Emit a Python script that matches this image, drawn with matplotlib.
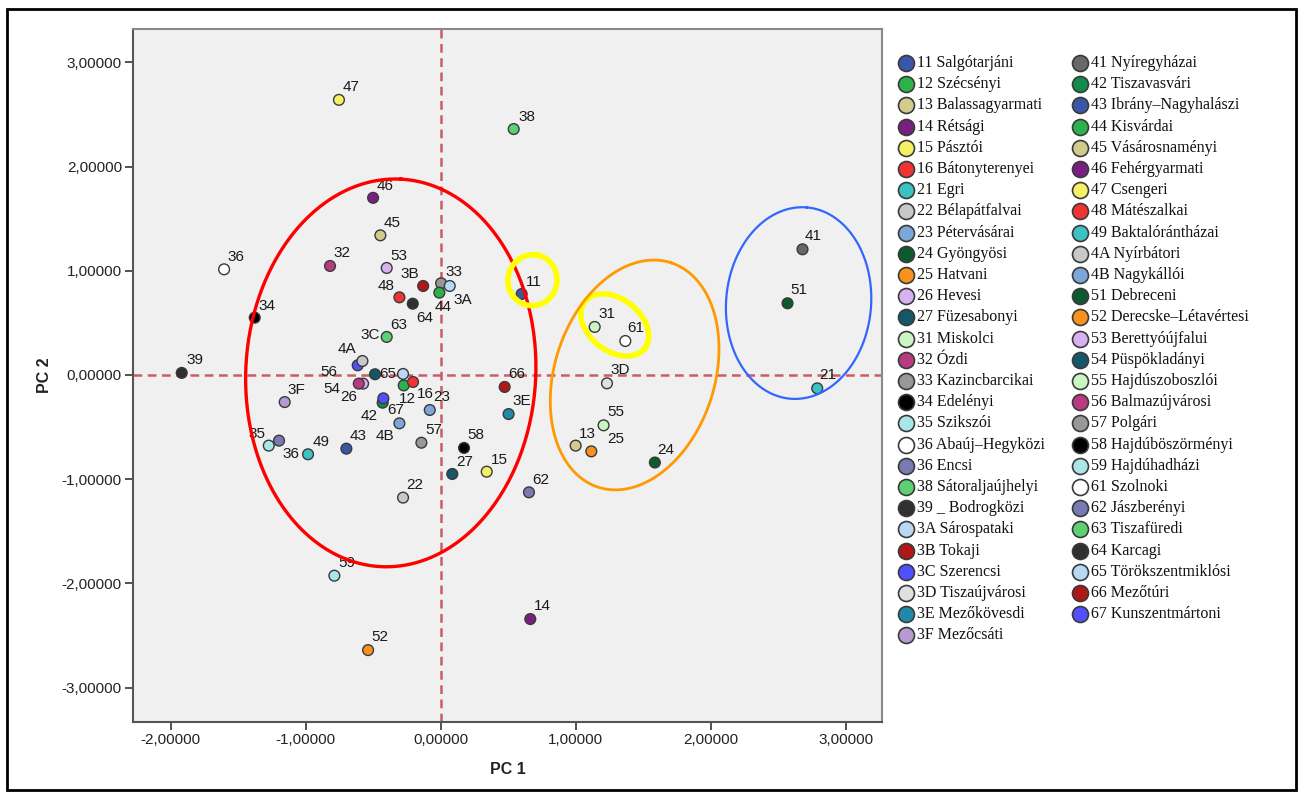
import matplotlib
matplotlib.use("Agg")
import matplotlib.pyplot as plt
import numpy as np
from matplotlib.patches import Rectangle

# ---------------- data ----------------
codes = ["11", "12", "13", "14", "15", "16", "21", "22", "23", "24", "25", "26", "27",
         "31", "32", "33", "34", "35", "36", "36", "38", "39", "3A", "3B", "3C", "3D", "3E", "3F",
         "41", "42", "43", "44", "45", "46", "47", "48", "49", "4A", "4B",
         "51", "52", "53", "54", "55", "56", "57", "58", "59",
         "61", "62", "63", "64", "65", "66", "67"]
names = ["Salgótarjáni", "Szécsényi", "Balassagyarmati", "Rétsági", "Pásztói", "Bátonyterenyei",
         "Egri", "Bélapátfalvai", "Pétervásárai", "Gyöngyösi", "Hatvani", "Hevesi", "Füzesabonyi",
         "Miskolci", "Ózdi", "Kazincbarcikai", "Edelényi", "Szikszói", "Abaúj–Hegyközi", "Encsi",
         "Sátoraljaújhelyi", "_ Bodrogközi", "Sárospataki", "Tokaji", "Szerencsi", "Tiszaújvárosi",
         "Mezőkövesdi", "Mezőcsáti",
         "Nyíregyházai", "Tiszavasvári", "Ibrány–Nagyhalászi", "Kisvárdai", "Vásárosnaményi",
         "Fehérgyarmati", "Csengeri", "Mátészalkai", "Baktalórántházai", "Nyírbátori", "Nagykállói",
         "Debreceni", "Derecske–Létavértesi", "Berettyóújfalui", "Püspökladányi", "Hajdúszoboszlói",
         "Balmazújvárosi", "Polgári", "Hajdúböszörményi", "Hajdúhadházi",
         "Szolnoki", "Jászberényi", "Tiszafüredi", "Karcagi", "Törökszentmiklósi", "Mezőtúri",
         "Kunszentmártoni"]
pc1 = [0.60, -0.274, 1.00, 0.664, 0.341, -0.205, 2.79, -0.279, -0.081, 1.587, 1.116, -0.575, 0.086,
       1.141, -0.82, 0.003, -1.378, -1.274, -1.605, -1.198, 0.541, -1.919, 0.067, -0.13, -0.615, 1.232,
       0.503, -1.156,
       2.681, -0.43, -0.699, -0.01, -0.447, -0.501, -0.754, -0.306, -0.983, -0.58, -0.306,
       2.570, -0.538, -0.40, -0.487, 1.207, -0.607, -0.143, 0.173, -0.788,
       1.368, 0.654, -0.40, -0.207, -0.279, 0.474, -0.425]
pc2 = [0.777, -0.10, -0.678, -2.342, -0.928, -0.067, -0.128, -1.177, -0.336, -0.84, -0.733, -0.083, -0.95,
       0.461, 1.046, 0.88, 0.55, -0.678, 1.014, -0.63, 2.36, 0.02, 0.854, 0.854, 0.093, -0.08,
       -0.375, -0.26,
       1.206, -0.266, -0.707, 0.79, 1.34, 1.70, 2.64, 0.745, -0.761, 0.134, -0.464,
       0.688, -2.64, 1.027, 0.007, -0.483, -0.083, -0.65, -0.70, -1.926,
       0.326, -1.126, 0.365, 0.684, 0.01, -0.115, -0.224]
colors = ["#3a56a8", "#2bb24c", "#d2cb8e", "#7a1f82", "#f6f066", "#f03434", "#3cc2c2", "#c8c8c8",
          "#7ba8d8", "#0c5a2e", "#f7921e", "#d8b2f0", "#15566a",
          "#caf6c2", "#b83a80", "#989898", "#000000", "#aae6e6", "#ffffff", "#7a7ab2", "#5cd072",
          "#303030", "#b8d8f4", "#b01818", "#5050ff", "#e0e0e0", "#1f8aa8", "#b89ad2",
          "#686868", "#128c4c", "#3a56a8", "#2bb24c", "#d2cb8e", "#7a1f82", "#f6f066", "#f03434",
          "#3cc2c2", "#c8c8c8", "#7ba8d8",
          "#0c5a2e", "#f7921e", "#d8b2f0", "#15566a", "#caf6c2", "#b83a80", "#989898", "#000000",
          "#aae6e6",
          "#ffffff", "#7a7ab2", "#5cd072", "#303030", "#b8d8f4", "#b01818", "#5050ff"]

# label offsets (pixels, dx right, dy up) for the point labels
label_off = {0: (12, 12), 1: (4, -14), 2: (12, 12), 3: (12, 13), 4: (13, 12), 5: (12, -12),
             6: (11, 13), 7: (12, 13), 8: (12, 13), 9: (11, 13), 10: (24, 12), 11: (-14, -13),
             12: (12, 12), 13: (12, 13), 14: (12, 13), 15: (13, 11), 16: (12, 12), 17: (-12, 12),
             18: (12, 12), 19: (12, -13), 20: (13, 12), 21: (13, 13), 22: (13, -14), 23: (-13, 12),
             24: (13, 30), 25: (13, 13), 26: (13, 13), 27: (12, 12),
             28: (11, 13), 29: (-14, -13), 30: (12, 13), 31: (4, -14), 32: (12, 12), 33: (12, 12),
             34: (12, 13), 35: (-13, 11), 36: (13, 12), 37: (-15, 12), 38: (-14, -13),
             39: (11, 13), 40: (12, 13), 41: (12, 12), 42: (-43, -15), 43: (12, 13), 44: (-30, 12),
             45: (12, 13), 46: (12, 13), 47: (12, 13),
             48: (10, 13), 49: (12, 12), 50: (12, 12), 51: (12, -14), 52: (-15, 0), 53: (12, 13),
             54: (12, -12)}

# ---------------- figure ----------------
W, H = 1303, 795
fig = plt.figure(figsize=(W / 100, H / 100), dpi=100)
fig.patch.set_facecolor("white")
SANS = ["Liberation Sans", "DejaVu Sans"]

L, R, T, B = 133, 882, 29, 722
ax = fig.add_axes([L / W, 1 - B / H, (R - L) / W, (B - T) / H])
ax.set_facecolor("#f0f0f0")
xlim = (-2.28, 3.27)
ylim = (-3.33, 3.32)
ax.set_xlim(*xlim)
ax.set_ylim(*ylim)
ppx = (R - L) / (xlim[1] - xlim[0])
ppy = (B - T) / (ylim[1] - ylim[0])

ticks_x = [-2, -1, 0, 1, 2, 3]
ticks_y = [-3, -2, -1, 0, 1, 2, 3]
ax.set_xticks(ticks_x)
ax.set_yticks(ticks_y)
fmt = lambda v: f"{v:.5f}".replace(".", ",")
ax.set_xticklabels([fmt(v) for v in ticks_x])
ax.set_yticklabels([fmt(v) for v in ticks_y])
ax.tick_params(direction="out", length=6, width=1.2, color="#333333",
               labelsize=11, labelcolor="#222222", pad=2)
for lab in ax.get_xticklabels() + ax.get_yticklabels():
    lab.set_family(SANS)
for side, sp in ax.spines.items():
    sp.set_linewidth(1.5)
    sp.set_color("#555555" if side in ("left", "bottom") else "#8a8a8a")
ax.set_xlabel("PC 1", fontsize=11.5, fontweight="bold", family=SANS, labelpad=11, color="#222222")
ax.set_ylabel("PC 2", fontsize=11.5, fontweight="bold", family=SANS, labelpad=7, color="#222222")

# reference lines
ax.axvline(0, color="#cc5c66", lw=1.8, ls=(0, (3.5, 2.2)), zorder=1)
ax.axhline(0, color="#cc5c66", lw=1.8, ls=(0, (3.5, 2.2)), zorder=1)

# points
ax.scatter(pc1, pc2, s=60, c=colors, edgecolors="#3a3a3a", linewidths=1.0, zorder=3)
for i, (x, y) in enumerate(zip(pc1, pc2)):
    dx, dy = label_off.get(i, (12, 12))
    ax.annotate(codes[i], (x, y), xytext=(dx * 0.72, dy * 0.72), textcoords="offset points",
                ha="center", va="center", fontsize=11, color="#1a1a1a",
                family=SANS, zorder=4)

# ellipses (centre in data units, semi-axes in pixels, angle in screen degrees)
def ellipse(cx, cy, a, b, ang, color, lw):
    t = np.linspace(0, 2 * np.pi, 400)
    th = np.deg2rad(ang)
    px = a * np.cos(t) * np.cos(th) - b * np.sin(t) * np.sin(th)
    py = a * np.cos(t) * np.sin(th) + b * np.sin(t) * np.cos(th)
    ax.plot(cx + px / ppx, cy + py / ppy, color=color, lw=lw, zorder=5, clip_on=False)

ellipse(-0.37, 0.02, 194, 145, 87, "#ff0000", 2.4)
ellipse(0.68, 0.91, 25.5, 24.5, 80, "#ffff00", 4.0)
ellipse(1.29, 0.48, 38, 26, -38, "#ffff00", 4.0)
ellipse(1.437, 0.0, 118, 80, 72, "#ff9900", 2.0)
ellipse(2.652, 0.69, 96, 72.5, 85, "#3366ff", 1.6)

# legend (drawn manually, two columns)
col_x = [906, 1080]
y0, dy = 63, 21.2
n1 = 28
for i, (cd, nm, col) in enumerate(zip(codes, names, colors)):
    c = 0 if i < n1 else 1
    r = i if i < n1 else i - n1
    yy = y0 + r * dy
    fig.lines.append(plt.Line2D([col_x[c] / W], [1 - yy / H], transform=fig.transFigure,
                                marker="o", markersize=11.5, markerfacecolor=col,
                                markeredgecolor="#3a3a3a", markeredgewidth=1.2, ls="none"))
    fig.text((col_x[c] + 11) / W, 1 - yy / H, f"{cd} {nm}", ha="left", va="center",
             fontsize=11.5, family=["Liberation Serif", "DejaVu Serif"], color="#111111")

# outer frame
fig.patches.append(Rectangle((7 / W, 1 - 790 / H), (1296 - 7) / W, (790 - 9) / H,
                             transform=fig.transFigure, fill=False, edgecolor="black", lw=2.0))

fig.savefig("out.png", dpi=100)
